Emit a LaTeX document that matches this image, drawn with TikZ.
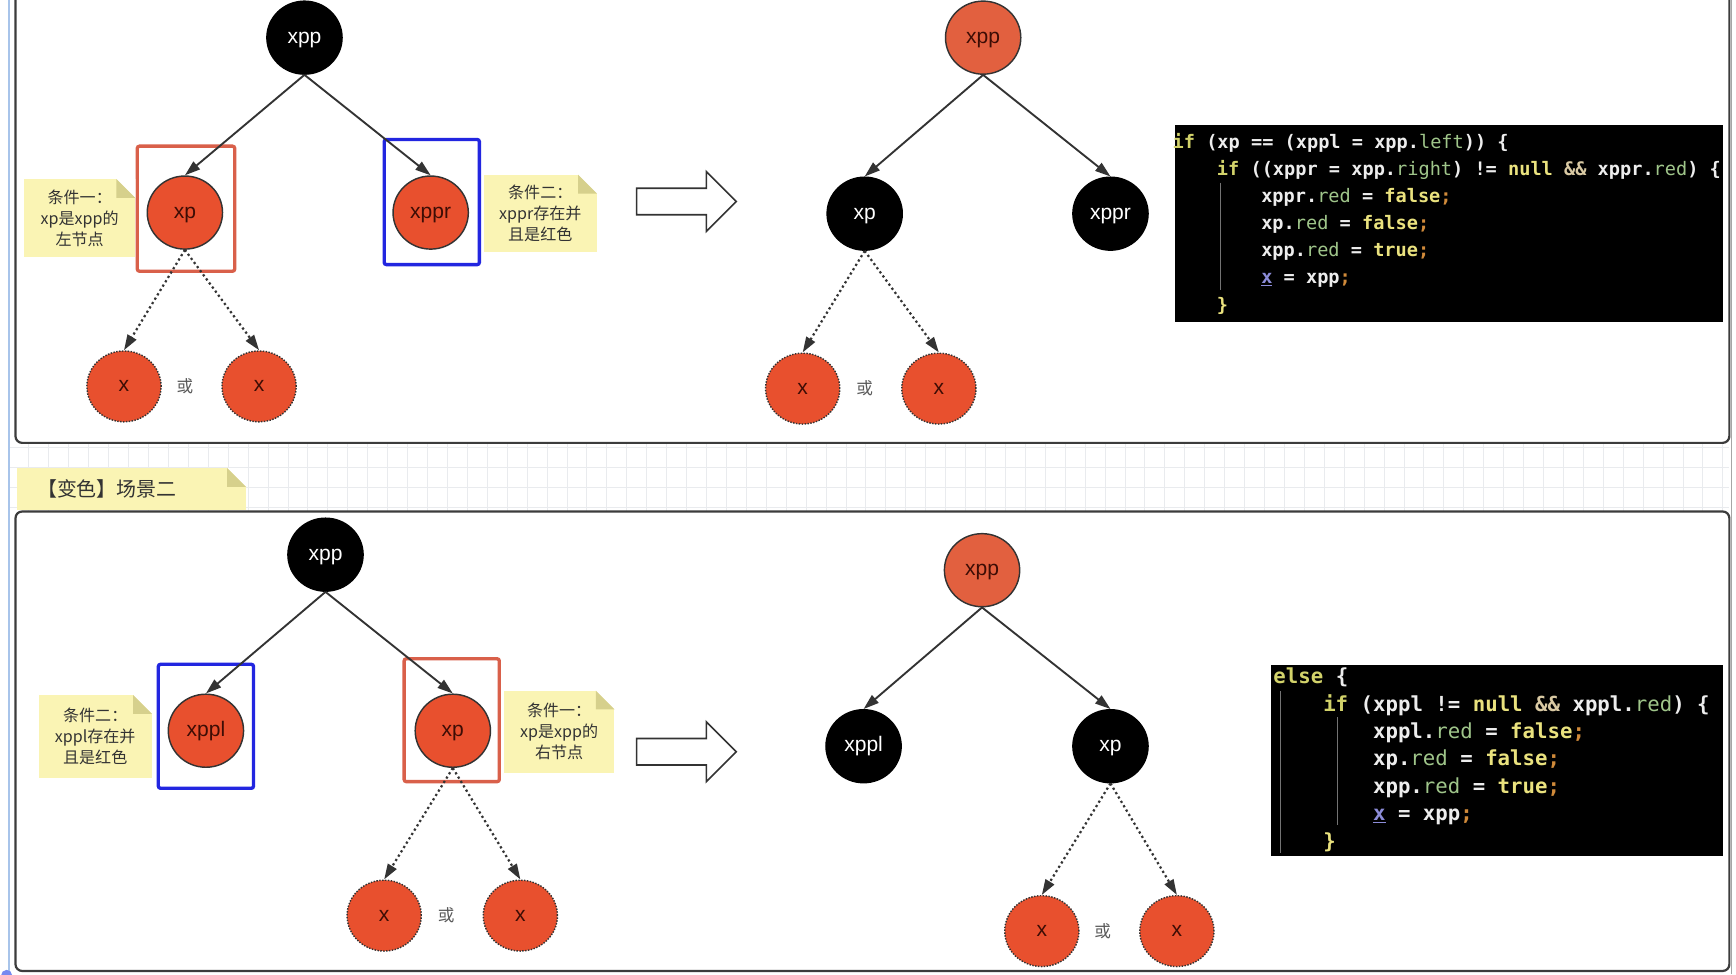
\documentclass[tikz,border=0pt]{standalone}
\usepackage{fontspec}
\setmainfont{Liberation Sans}
\newfontfamily\cjkf{Noto Sans CJK SC}
\newfontfamily\codef{DejaVu Sans Mono}
\usetikzlibrary{arrows.meta,shapes.geometric,calc}
\definecolor{nred}{HTML}{E8502E}
\definecolor{nredb}{HTML}{E2603F}
\definecolor{ntext}{HTML}{3D0D05}
\definecolor{edgec}{HTML}{333333}
\definecolor{boxred}{HTML}{D9604A}
\definecolor{boxblue}{HTML}{2226E0}
\definecolor{notey}{HTML}{FAF4B4}
\definecolor{foldc}{HTML}{D6D08C}
\definecolor{panelc}{HTML}{3C3C3C}
\definecolor{gridc}{HTML}{E9EBEE}
\definecolor{bluel}{HTML}{A8C4EA}
\definecolor{ckw}{HTML}{D2D26A}
\definecolor{cfld}{HTML}{9FC58A}
\definecolor{clit}{HTML}{EAE27E}
\definecolor{camp}{HTML}{D9C9A3}
\definecolor{csemi}{HTML}{D08A3A}
\definecolor{cvar}{HTML}{8C8CD8}
\definecolor{cbase}{HTML}{EDEDED}
\newcommand\cdkw[1]{\textcolor{ckw}{#1}}
\newcommand\cdfld[1]{\textcolor{cfld}{\mdseries #1}}
\newcommand\cdlit[1]{\textcolor{clit}{#1}}
\newcommand\cdamp[1]{\textcolor{camp}{#1}}
\newcommand\cdsemi{\textcolor{csemi}{;}}
\newcommand\cdvar[1]{\textcolor{cvar}{\underline{#1}}}
\newcommand\notefold[1]{%
  \fill[white] ($(#1.north east)+(-17,0)$) -- (#1.north east) -- ($(#1.north east)+(0,17)$) -- cycle;
  \fill[foldc] ($(#1.north east)+(-17,0)$) -- ($(#1.north east)+(-17,17)$) -- ($(#1.north east)+(0,17)$) -- cycle;}
\begin{document}
\begin{tikzpicture}[x=1pt,y=-1pt,
  blknode/.style={ellipse, draw=black, fill=black, text=white, minimum width=68pt, minimum height=66pt, inner sep=0pt, line width=1.2pt, text height=10pt, text depth=0pt, font=\fontsize{19}{19}\selectfont},
  rednode/.style={ellipse, draw=edgec, fill=nred, text=ntext, minimum width=68pt, minimum height=66pt, inner sep=0pt, line width=1.3pt, text height=10pt, text depth=0pt, font=\fontsize{19}{19}\selectfont},
  xnode/.style={rednode, minimum width=67pt, minimum height=64pt, dash pattern=on 1.3pt off 1.3pt},
  edge/.style={draw=edgec, line width=1.7pt, -{Triangle[length=14pt,width=9pt]}},
  dedge/.style={edge, line width=2pt, dash pattern=on 2pt off 2.6pt},
  redbox/.style={draw=boxred, line width=3pt, rounded corners=2pt, inner sep=0pt},
  bluebox/.style={draw=boxblue, line width=3pt, rounded corners=2pt, inner sep=0pt},
  notebox/.style={fill=notey, inner sep=0pt, align=center, text=black!80, font=\cjkf\fontsize{14.5}{19}\selectfont},
  ortext/.style={text=black!65, font=\cjkf\fontsize{15}{15}\selectfont},
  panel/.style={draw=panelc, line width=2pt, rounded corners=6pt, fill=white},
  hollow/.style={draw=edgec, line width=1.5pt, fill=white},
  codebg/.style={fill=black, inner sep=0pt},
  code1/.style={anchor=base west, inner sep=0pt, text=cbase, font=\codef\bfseries\fontsize{16.8}{16.8}\selectfont},
  code2/.style={anchor=base west, inner sep=0pt, text=cbase, font=\codef\bfseries\fontsize{18.7}{18.7}\selectfont},
  guide/.style={draw=black!55, line width=0.6pt}
]
\useasboundingbox (0,0) rectangle (1568,880);
\fill[white] (0,0) rectangle (1568,880);
% grid strip
\foreach \gx in {8,26,...,1562} \draw[gridc, line width=0.6pt] (\gx,400) -- (\gx,462);
\foreach \gy in {404,422,440,458} \draw[gridc, line width=0.6pt] (8,\gy) -- (1562,\gy);
\draw[bluel, line width=1.5pt] (8,0) -- (8,880);
\draw[black!35, line width=1.5pt] (1564,0) -- (1564,880);
\fill[black!55, rounded corners=3pt] (1403,-6) rectangle (1545,2.5);
\fill[bluel!70!blue] (6,881) circle (5);
% panels
\draw[panel] (14,-20) rectangle (1562,400);
\draw[panel] (14,462) rectangle (1562,877);

% ================= TOP LEFT =================
\node[redbox, minimum width=88pt, minimum height=113pt] (tbr) at (168,188.5) {};
\node[bluebox, minimum width=86pt, minimum height=113pt] (tbb) at (390,182.5) {};
\node[blknode] (t1xpp) at (275,34) {xpp};
\node[rednode] (t1xp) at (167,192) {xp};
\node[rednode] (t1xppr) at (389,192) {xppr};
\node[xnode] (t1x1) at (112,349) {x};
\node[xnode] (t1x2) at (234,349) {x};
\node[ortext] (t1or) at (167,349) {或};
\draw[edge] (t1xpp.south) -- (t1xp.north);
\draw[edge] (t1xpp.south) -- (t1xppr.north);
\draw[dedge] (t1xp.south) -- (t1x1.north);
\draw[dedge] (t1xp.south) -- (t1x2.north);
\node[notebox, minimum width=100pt, minimum height=70pt] (tn1) at (72,197) {条件一：\\xp是xpp的\\左节点};
\notefold{tn1}
\node[notebox, minimum width=102pt, minimum height=70pt] (tn2) at (488,193) {条件二：\\xppr存在并\\且是红色};
\notefold{tn2}
\draw[hollow] (575,170) -- (638,170) -- (638,155) -- (665,182) -- (638,209) -- (638,194) -- (575,194) -- cycle;

% ================= TOP RIGHT =================
\node[rednode, fill=nredb] (t2xpp) at (888,34) {xpp};
\node[blknode] (t2xp) at (781,193) {xp};
\node[blknode] (t2xppr) at (1003,193) {xppr};
\node[xnode] (t2x1) at (725,351) {x};
\node[xnode] (t2x2) at (848,351) {x};
\node[ortext] (t2or) at (781,351) {或};
\draw[edge] (t2xpp.south) -- (t2xp.north);
\draw[edge] (t2xpp.south) -- (t2xppr.north);
\draw[dedge] (t2xp.south) -- (t2x1.north);
\draw[dedge] (t2xp.south) -- (t2x2.north);

% code block 1
\node[codebg, minimum width=495pt, minimum height=178pt] (cb1) at (1308.5,202) {};
\draw[guide] (1102,165) -- (1102,262);
\node[code1] (c11) at (1059,134) {\cdkw{if} (xp == (xppl = xpp.\cdfld{left})) \{};
\node[code1] (c12) at (1099,158.5) {\cdkw{if} ((xppr = xpp.\cdfld{right}) != \cdlit{null} \cdamp{\&\&} xppr.\cdfld{red}) \{};
\node[code1] (c13) at (1139,183) {xppr.\cdfld{red} = \cdlit{false}\cdsemi};
\node[code1] (c14) at (1139,207.5) {xp.\cdfld{red} = \cdlit{false}\cdsemi};
\node[code1] (c15) at (1139,232) {xpp.\cdfld{red} = \cdlit{true}\cdsemi};
\node[code1] (c16) at (1139,256.5) {\cdvar{x} = xpp\cdsemi};
\node[code1, text=clit] (c17) at (1099,281) {\}};

% ================= BOTTOM =================
\node[notebox, minimum width=207pt, minimum height=38pt, text width=170pt, align=left, font=\cjkf\fontsize{18}{18}\selectfont] (title) at (118.5,442) {【变色】场景二};
\notefold{title}

% bottom left
\node[bluebox, minimum width=86pt, minimum height=112pt] (bbb) at (186,656) {};
\node[redbox, minimum width=86pt, minimum height=111pt] (bbr) at (408,650.5) {};
\node[blknode] (b1xpp) at (294,501) {xpp};
\node[rednode] (b1xppl) at (186,660) {xppl};
\node[rednode] (b1xp) at (409,660) {xp};
\node[xnode] (b1x1) at (347,827) {x};
\node[xnode] (b1x2) at (470,827) {x};
\node[ortext] (b1or) at (403,827) {或};
\draw[edge] (b1xpp.south) -- (b1xppl.north);
\draw[edge] (b1xpp.south) -- (b1xp.north);
\draw[dedge] (b1xp.south) -- (b1x1.north);
\draw[dedge] (b1xp.south) -- (b1x2.north);
\node[notebox, minimum width=102pt, minimum height=75pt] (bn1) at (86,665.5) {条件二：\\xppl存在并\\且是红色};
\notefold{bn1}
\node[notebox, minimum width=100pt, minimum height=74pt] (bn2) at (505,661) {条件一：\\xp是xpp的\\右节点};
\notefold{bn2}
\draw[hollow] (575,667) -- (638,667) -- (638,652) -- (665,679) -- (638,706) -- (638,691) -- (575,691) -- cycle;

% bottom right
\node[rednode, fill=nredb] (b2xpp) at (887,515) {xpp};
\node[blknode] (b2xppl) at (780,674) {xppl};
\node[blknode] (b2xp) at (1003,674) {xp};
\node[xnode] (b2x1) at (941,841) {x};
\node[xnode] (b2x2) at (1063,841) {x};
\node[ortext] (b2or) at (996,841) {或};
\draw[edge] (b2xpp.south) -- (b2xppl.north);
\draw[edge] (b2xpp.south) -- (b2xp.north);
\draw[dedge] (b2xp.south) -- (b2x1.north);
\draw[dedge] (b2xp.south) -- (b2x2.north);

% code block 2
\node[codebg, minimum width=408pt, minimum height=172pt] (cb2) at (1352,687) {};
\draw[guide] (1156,624) -- (1156,770);
\draw[guide] (1208,648) -- (1208,745);
\node[code2] (c21) at (1150,617.5) {\cdkw{else} \{};
\node[code2] (c22) at (1195,642.5) {\cdkw{if} (xppl != \cdlit{null} \cdamp{\&\&} xppl.\cdfld{red}) \{};
\node[code2] (c23) at (1240,667) {xppl.\cdfld{red} = \cdlit{false}\cdsemi};
\node[code2] (c24) at (1240,691.5) {xp.\cdfld{red} = \cdlit{false}\cdsemi};
\node[code2] (c25) at (1240,716.5) {xpp.\cdfld{red} = \cdlit{true}\cdsemi};
\node[code2] (c26) at (1240,741.5) {\cdvar{x} = xpp\cdsemi};
\node[code2, text=clit] (c27) at (1195,766.5) {\}};
\end{tikzpicture}
\end{document}
